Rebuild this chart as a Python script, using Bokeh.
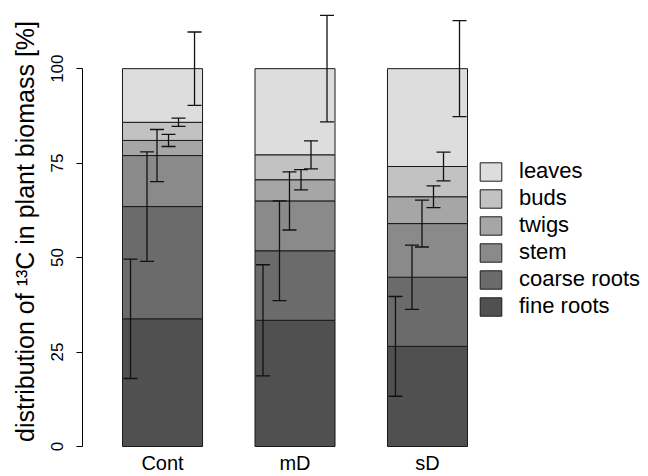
from bokeh.plotting import figure
from bokeh.models import (ColumnDataSource, Range1d, FixedTicker, Whisker, TeeHead,
                          Legend, LegendItem, CustomJSTickFormatter)
from bokeh.embed import file_html
from bokeh.resources import INLINE

groups = ["Cont", "mD", "sD"]
components = ["fine roots", "coarse roots", "stem", "twigs", "buds", "leaves"]

fine_roots = [33.8, 33.4, 26.5]
coarse_roots = [29.7, 18.4, 18.3]
stem = [13.5, 13.2, 14.2]
twigs = [4.0, 5.6, 7.1]
buds = [4.8, 6.6, 8.0]
leaves = [14.2, 22.8, 25.9]

err_fine_roots = [15.8, 14.7, 13.2]
err_coarse_roots = [14.5, 13.2, 8.5]
err_stem = [6.9, 7.7, 6.2]
err_twigs = [1.6, 2.7, 2.9]
err_buds = [1.1, 3.7, 3.8]
err_leaves = [9.7, 14.1, 12.7]

y_ticks = [0, 25, 50, 75, 100]

values = [fine_roots, coarse_roots, stem, twigs, buds, leaves]
errors = [err_fine_roots, err_coarse_roots, err_stem, err_twigs, err_buds, err_leaves]
colors = ["#505050", "#6b6b6b", "#8a8a8a", "#a6a6a6", "#c2c2c2", "#dddddd"]
err_frac = [0.1, 0.306, 0.431, 0.575, 0.7, 0.9]

FONT = "Liberation Sans"
W = 0.604

p = figure(width=648, height=476, output_backend="svg", toolbar_location=None,
           x_range=Range1d(-0.604, 3.653), y_range=Range1d(-1.59, 115.39),
           min_border_left=82, min_border_right=2, min_border_top=10, min_border_bottom=21)
p.outline_line_color = None
p.grid.visible = False
p.background_fill_color = "white"
p.border_fill_color = "white"

xs = list(range(len(groups)))
bottom = [0.0] * len(groups)
renderers = []
for comp, vals, errs, col, fr in zip(components, values, errors, colors, err_frac):
    top = [b + v for b, v in zip(bottom, vals)]
    src = ColumnDataSource(dict(x=xs, bottom=bottom, top=top))
    r = p.vbar(x="x", width=W, bottom="bottom", top="top", source=src,
               fill_color=col, line_color="#1a1a1a", line_width=1)
    renderers.append((comp, r))
    esrc = ColumnDataSource(dict(
        base=[x - W / 2 + fr * W for x in xs],
        upper=[t + e for t, e in zip(top, errs)],
        lower=[t - e for t, e in zip(top, errs)]))
    w = Whisker(base="base", upper="upper", lower="lower", source=esrc, dimension="height",
                level="overlay", line_color="#111111", line_width=1.3,
                upper_head=TeeHead(size=14, line_color="#111111", line_width=1.3),
                lower_head=TeeHead(size=14, line_color="#111111", line_width=1.3))
    p.add_layout(w)
    bottom = top

xa = p.xaxis[0]
xa.axis_label = None
xa.axis_label_standoff = 0
xa.ticker = FixedTicker(ticks=xs)
xa.formatter = CustomJSTickFormatter(args=dict(names=groups), code="return names[Math.round(tick)];")
xa.axis_line_color = None
xa.major_tick_line_color = None
xa.minor_tick_line_color = None
xa.major_tick_out = 0
xa.major_tick_in = 0
xa.major_label_standoff = -1
xa.major_label_text_font = FONT
xa.major_label_text_font_size = "20px"
xa.major_label_text_color = "black"

ya = p.yaxis[0]
ya.ticker = FixedTicker(ticks=y_ticks)
ya.bounds = (0, 100)
ya.axis_line_color = "black"
ya.axis_line_width = 1
ya.major_tick_line_color = "black"
ya.major_tick_out = 6
ya.major_tick_in = 0
ya.minor_tick_line_color = None
ya.major_label_orientation = "vertical"
ya.major_label_standoff = 13
ya.major_label_text_font = FONT
ya.major_label_text_font_size = "17px"
ya.major_label_text_color = "black"
ya.axis_label = "distribution of \u00b9\u00b3C in plant biomass [%]"
ya.axis_label_text_font = FONT
ya.axis_label_text_font_size = "25px"
ya.axis_label_text_font_style = "normal"
ya.axis_label_text_color = "black"
ya.axis_label_standoff = 10

items = [LegendItem(label=c, renderers=[r]) for c, r in reversed(renderers)]
legend = Legend(items=items, location=(395, 133), orientation="vertical",
                glyph_width=27, glyph_height=23, label_standoff=15, spacing=1,
                padding=0, margin=0, border_line_color=None, background_fill_alpha=0,
                label_text_font=FONT, label_text_font_size="22px", label_text_color="black",
                label_height=23)
p.add_layout(legend)

open("out.html", "w").write(file_html(p, INLINE))
